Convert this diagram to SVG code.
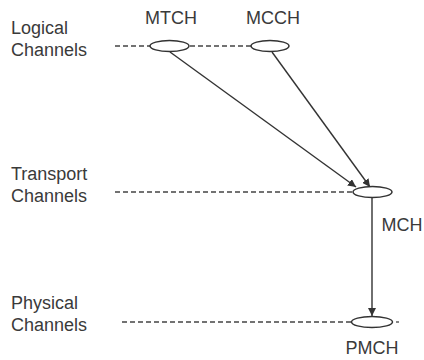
<svg xmlns="http://www.w3.org/2000/svg" width="424" height="360" viewBox="0 0 424 360">
<defs>
<marker id="ah" viewBox="0 0 10 10" refX="10" refY="5" markerWidth="8" markerHeight="8" markerUnits="userSpaceOnUse" orient="auto"><path d="M0,0 L10,5 L0,10 z" fill="#333"/></marker>
<style>
text{font-family:"Liberation Sans",Arial,sans-serif;fill:#3a3a3a}
.lab{font-size:18px}
.nm{font-size:18px}
.dash{stroke:#444;stroke-width:1.3;stroke-dasharray:5,3;fill:none}
.node ellipse{fill:#fff;stroke:#333;stroke-width:1.5}
.conn line{stroke:#333;stroke-width:1.4;marker-end:url(#ah)}
</style>
</defs>
<rect width="424" height="360" fill="#fff"/>
<g id="layer-labels">
<text class="lab" x="11" y="34">Logical</text>
<text class="lab" x="11" y="56">Channels</text>
<text class="lab" x="11" y="180">Transport</text>
<text class="lab" x="11" y="202">Channels</text>
<text class="lab" x="11" y="309">Physical</text>
<text class="lab" x="11" y="331">Channels</text>
</g>
<g id="dashes">
<line class="dash" x1="115" y1="46" x2="150" y2="46"/>
<line class="dash" x1="190" y1="46" x2="251" y2="46"/>
<line class="dash" x1="115" y1="192" x2="353" y2="192"/>
<line class="dash" x1="122" y1="322" x2="351" y2="322"/>
<line class="dash" x1="396" y1="322" x2="399" y2="322"/>
</g>
<g class="conn" id="connectors">
<line x1="170" y1="52" x2="356" y2="187"/>
<line x1="272" y1="52" x2="370" y2="187"/>
<line x1="372" y1="198" x2="372" y2="316"/>
</g>
<g class="node" id="MTCH"><ellipse cx="169.5" cy="46" rx="19.5" ry="5.5"/><text class="nm" x="171" y="24" text-anchor="middle">MTCH</text></g>
<g class="node" id="MCCH"><ellipse cx="270" cy="46" rx="19" ry="5.5"/><text class="nm" x="273" y="24" text-anchor="middle">MCCH</text></g>
<g class="node" id="MCH"><ellipse cx="372.5" cy="192" rx="19.5" ry="5.5"/><text class="nm" x="402" y="231" text-anchor="middle">MCH</text></g>
<g class="node" id="PMCH"><ellipse cx="372" cy="322" rx="20.5" ry="5.5"/><text class="nm" x="372" y="354" text-anchor="middle">PMCH</text></g>
</svg>
